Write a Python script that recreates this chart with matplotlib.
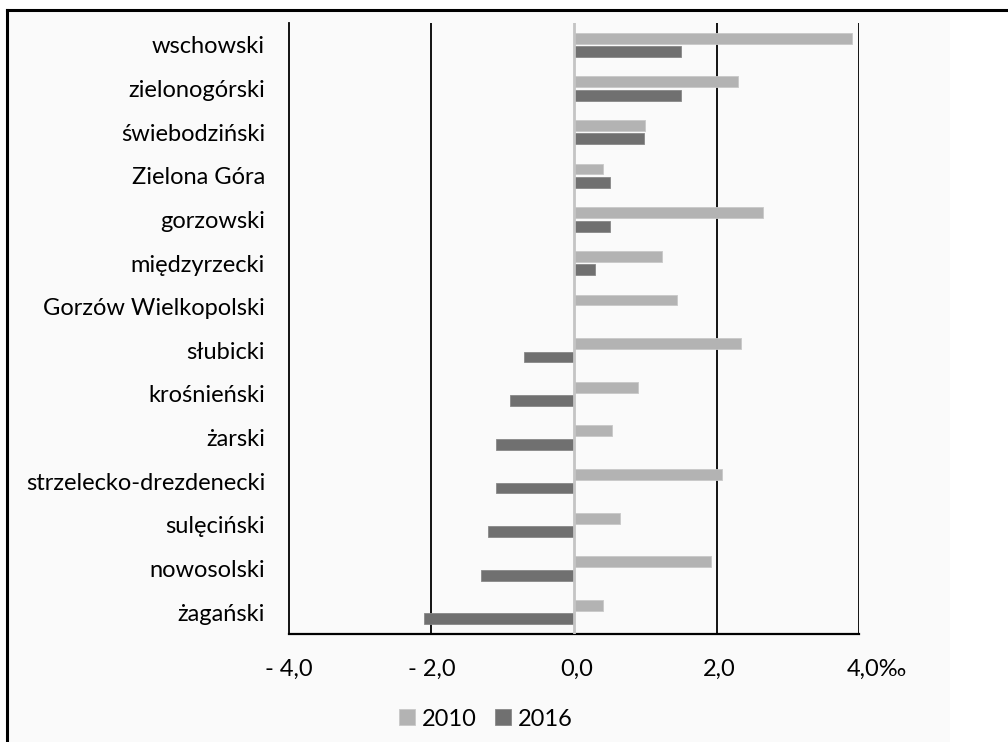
import matplotlib
matplotlib.use("Agg")
import matplotlib.pyplot as plt
import numpy as np
from matplotlib.transforms import ScaledTranslation
from matplotlib.lines import Line2D
from matplotlib.patches import Rectangle

categories = ["wschowski", "zielonogórski", "świebodziński", "Zielona Góra", "gorzowski",
              "międzyrzecki", "Gorzów Wielkopolski", "słubicki", "krośnieński", "żarski",
              "strzelecko-drezdenecki", "sulęciński", "nowosolski", "żagański"]
values_2010 = [3.9, 2.3, 1.0, 0.4, 2.65, 1.23, 1.44, 2.34, 0.9, 0.53, 2.08, 0.64, 1.92, 0.4]
values_2016 = [1.5, 1.5, 0.98, 0.5, 0.5, 0.3, 0.0, -0.7, -0.9, -1.1, -1.1, -1.2, -1.3, -2.1]
series_labels = ["2010", "2016"]
xticks = [-4, -2, 0, 2, 4]
xtick_labels = ["- 4,0", "- 2,0", "0,0", "2,0", "4,0‰"]

FONT = "Lato"
plt.rcParams["font.family"] = [FONT, "DejaVu Sans"]
FS = 17

W, H = 1008, 742
fig = plt.figure(figsize=(W / 100, H / 100), dpi=100, facecolor="white")

# background panel & border lines
fig.patches.append(Rectangle((7 / W, 0), (950 - 7) / W, 1 - 10 / H, transform=fig.transFigure,
                             facecolor="#fafafa", edgecolor="none", zorder=-10))
fig.lines.append(Line2D([7 / W, 1], [1 - 10 / H, 1 - 10 / H], transform=fig.transFigure,
                        color="black", lw=2.2, zorder=-5))
fig.lines.append(Line2D([7 / W, 7 / W], [0, 1 - 10 / H], transform=fig.transFigure,
                        color="black", lw=2.2, zorder=-5))

ax = fig.add_axes([288.7 / W, 1 - 634 / H, (859.3 - 288.7) / W, (634 - 23) / H])
ax.set_facecolor("none")
ax.set_zorder(5)

n = len(categories)
y = np.arange(n)
h = 0.25
off = 0.154
c2010 = "#b3b3b3"
c2016 = "#707070"
ax.barh(y - off, values_2010, height=h, color=c2010, edgecolor="#c8c8c8", linewidth=0.6,
        label=series_labels[0], zorder=3)
ax.barh(y + off, values_2016, height=h, color=c2016, edgecolor="#888888", linewidth=0.6,
        label=series_labels[1], zorder=3)

ax.set_xlim(-4, 4)
ax.set_ylim(n - 0.5, -0.5)

for xv in [-2, 2, 4]:
    ax.axvline(xv, color="black", lw=1.3, zorder=2)
ax.axvline(0, color="#c4c4c4", lw=2.0, zorder=4)

for s in ["top", "right"]:
    ax.spines[s].set_visible(False)
ax.spines["left"].set_linewidth(1.3)
ax.spines["bottom"].set_linewidth(1.6)

ax.set_yticks(y)
ax.set_yticklabels(categories, fontsize=FS)
ax.tick_params(axis="y", length=0, pad=17)
ax.set_xticks(xticks)
ax.set_xticklabels(xtick_labels, fontsize=FS)
ax.tick_params(axis="x", length=0, pad=18)

for lab, xv in zip(ax.get_xticklabels(), xticks):
    if 0 <= xv < 4:
        lab.set_transform(lab.get_transform() + ScaledTranslation(3 / 100, 0, fig.dpi_scale_trans))
    elif xv == 4:
        lab.set_horizontalalignment("left")
        lab.set_transform(lab.get_transform() + ScaledTranslation(-13 / 100, 0, fig.dpi_scale_trans))

fig.legend(loc="center", bbox_to_anchor=(486 / W, 1 - 719 / H), ncol=2, frameon=False,
           fontsize=FS, handlelength=0.65, handleheight=0.65, handletextpad=0.3,
           columnspacing=0.8)

fig.savefig("out.png", dpi=100, facecolor="white")
